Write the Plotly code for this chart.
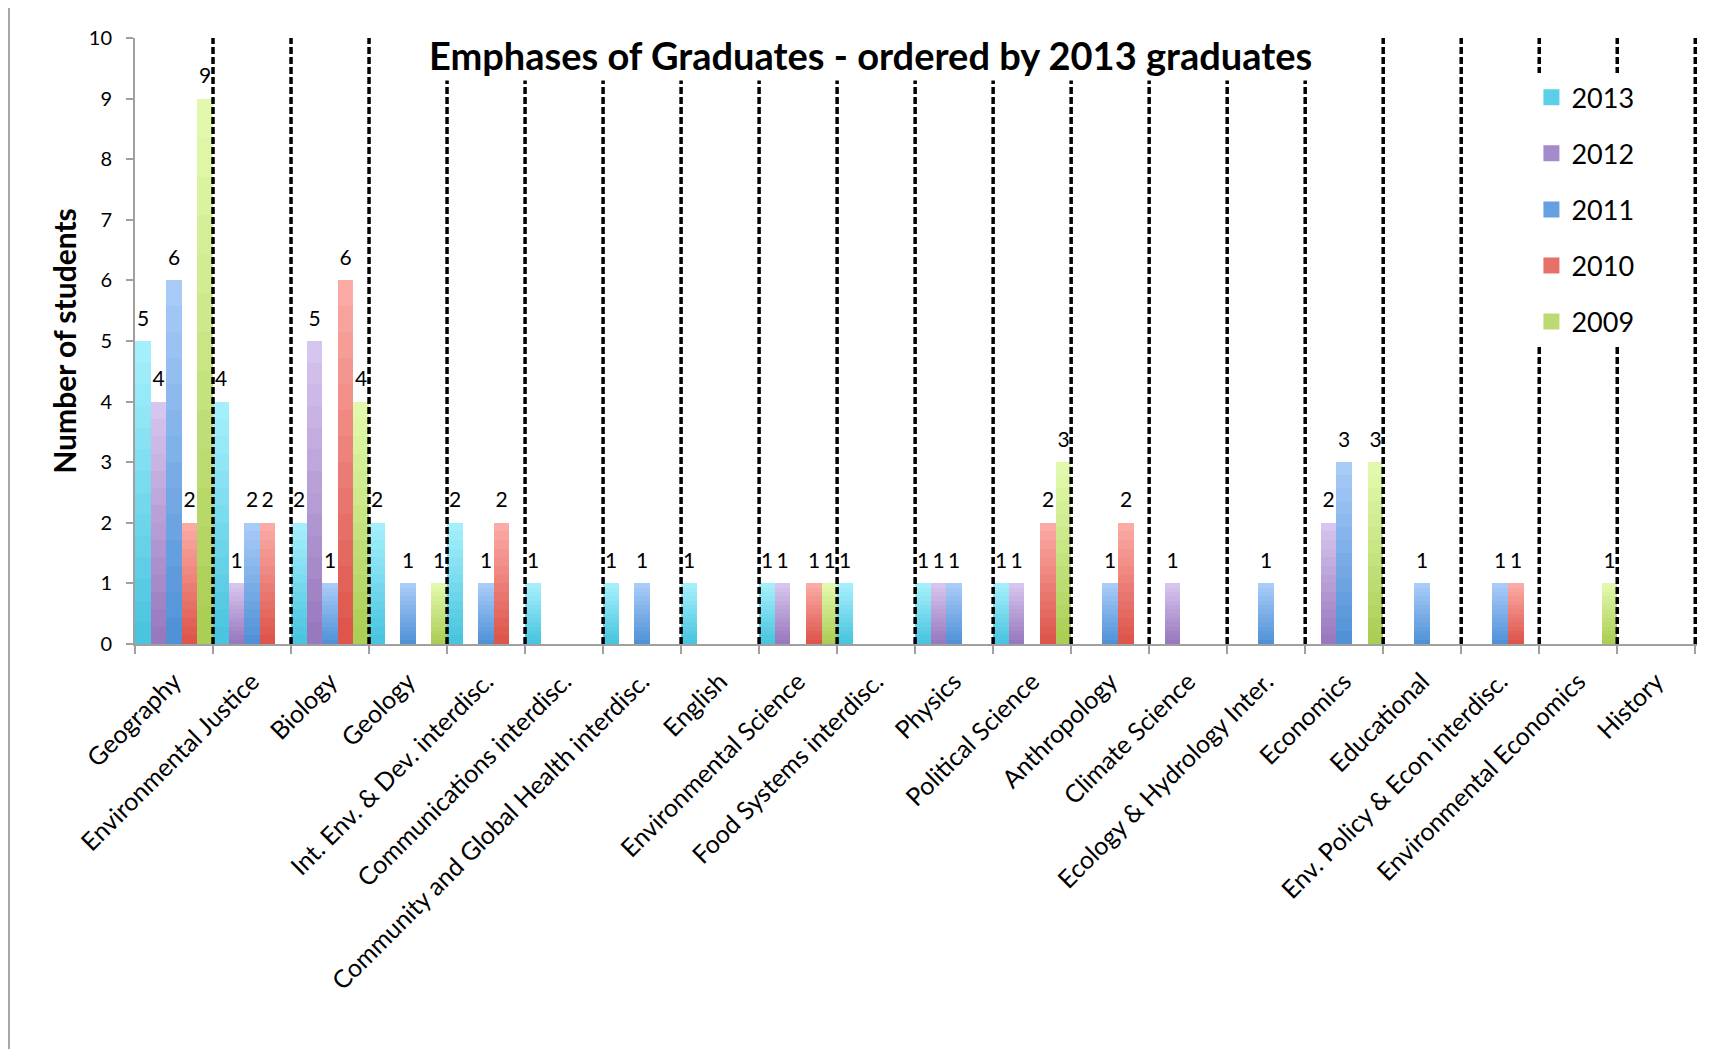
import plotly.graph_objects as go

categories = [
    "Geography", "Environmental Justice", "Biology", "Geology",
    "Int. Env. & Dev. interdisc.", "Communications interdisc.",
    "Community and Global Health interdisc.", "English",
    "Environmental Science", "Food Systems interdisc.", "Physics",
    "Political Science", "Anthropology", "Climate Science",
    "Ecology & Hydrology Inter.", "Economics", "Educational",
    "Env. Policy & Econ interdisc.", "Environmental Economics", "History",
]

y2013 = [5, 4, 2, 2, 2, 1, 1, 1, 1, 1, 1, 1, 0, 0, 0, 0, 0, 0, 0, 0]
y2012 = [4, 1, 5, 0, 0, 0, 0, 0, 1, 0, 1, 1, 0, 1, 0, 2, 0, 0, 0, 0]
y2011 = [6, 2, 1, 1, 1, 0, 1, 0, 0, 0, 1, 0, 1, 0, 1, 3, 1, 1, 0, 0]
y2010 = [2, 2, 6, 0, 2, 0, 0, 0, 1, 0, 0, 2, 2, 0, 0, 0, 0, 1, 0, 0]
y2009 = [9, 0, 4, 1, 0, 0, 0, 0, 1, 0, 0, 3, 0, 0, 0, 3, 0, 0, 1, 0]

series_names = ["2013", "2012", "2011", "2010", "2009"]
series_values = [y2013, y2012, y2011, y2010, y2009]
# (bottom colour, top colour) of each series' vertical gradient
series_grad = [("#46C3DE", "#A8F1FD"), ("#9675BC", "#D8C8F0"),
               ("#4E90D6", "#ABCDF9"), ("#DC5248", "#FCADA8"),
               ("#A9CC52", "#E4FBB0")]
series_legend_colors = ["#5ACFE8", "#A68BCB", "#66A0E2", "#E8706A", "#BDDA72"]

y_ticks = list(range(0, 11))
title_text = "Emphases of Graduates - ordered by 2013 graduates"
y_title = "Number of students"

FONT = "Lato"
NSEG = 14          # number of gradient slices per bar (visual only)
LABEL_PAD = 0.14   # invisible spacer (axis units) between bar top and its label


def hex2rgb(h):
    h = h.lstrip("#")
    return tuple(int(h[i:i + 2], 16) for i in (0, 2, 4))


def mix(c1, c2, t):
    a, b = hex2rgb(c1), hex2rgb(c2)
    return "rgb(%d,%d,%d)" % tuple(round(a[i] + (b[i] - a[i]) * t) for i in range(3))


fig = go.Figure()
for si, (name, vals, (cb, ct)) in enumerate(zip(series_names, series_values, series_grad)):
    for s in range(NSEG):
        fig.add_trace(go.Bar(
            x=categories, y=[v / NSEG for v in vals], name=name,
            offsetgroup=str(si), legendgroup=name, showlegend=False,
            marker=dict(color=mix(cb, ct, (s + 0.5) / NSEG), line=dict(width=0)),
            textposition="none", hoverinfo="skip",
        ))
    # transparent spacer on top carrying the value label
    fig.add_trace(go.Bar(
        x=categories, y=[LABEL_PAD if v else 0 for v in vals], name=name,
        offsetgroup=str(si), legendgroup=name, showlegend=False,
        marker=dict(color="rgba(0,0,0,0)", line=dict(width=0)),
        text=[str(v) if v else "" for v in vals], textposition="outside",
        cliponaxis=False, constraintext="none", hoverinfo="skip",
        textfont=dict(family=FONT, size=21, color="black"),
    ))

# legend entries (square swatches)
for name, col in zip(series_names, series_legend_colors):
    fig.add_trace(go.Scatter(x=[None], y=[None], mode="markers", name=name,
                             legendgroup=name,
                             marker=dict(symbol="square", size=16, color=col)))

shapes = []
for k in range(len(categories)):
    shapes.append(dict(type="line", xref="x", yref="y", x0=k + 0.5, x1=k + 0.5,
                       y0=0, y1=10, layer="above",
                       line=dict(color="black", width=3.5, dash="7px,3px")))
# outer chart frame
shapes.append(dict(type="rect", xref="paper", yref="paper", x0=-0.0807, x1=1.2,
                   y0=-1.0, y1=1.0528, layer="below",
                   line=dict(color="#A6A6A6", width=2)))

fig.update_layout(
    width=1730, height=1049,
    margin=dict(l=127, r=41, t=30, b=413),
    paper_bgcolor="white", plot_bgcolor="white",
    barmode="stack", bargap=0, bargroupgap=0,
    font=dict(family=FONT, color="black"),
    shapes=shapes,
    showlegend=True,
    legend=dict(x=0.894, y=0.942, xanchor="left", yanchor="top",
                bgcolor="white", font=dict(family=FONT, size=27),
                tracegroupgap=18, traceorder="grouped"),
    annotations=[dict(text="<b>" + title_text + "</b>", xref="paper", yref="paper",
                      x=0.4706, y=0.972, xanchor="center", yanchor="middle",
                      showarrow=False, bgcolor="white", borderpad=2,
                      font=dict(family=FONT, size=38, color="black"))],
    xaxis=dict(type="category", tickangle=-45, tickson="boundaries",
               ticks="outside", ticklen=8, tickcolor="#A0A0A0", tickwidth=2,
               showline=True, linecolor="#A0A0A0", linewidth=2,
               ticklabelstandoff=11,
               showgrid=False, tickfont=dict(family=FONT, size=25, color="black")),
    yaxis=dict(range=[0, 10], tickvals=y_ticks, ticks="outside", ticklen=7,
               tickcolor="#A0A0A0", tickwidth=2, showline=True,
               linecolor="#A0A0A0", linewidth=2, showgrid=False, zeroline=False,
               ticklabelstandoff=10,
               tickfont=dict(family=FONT, size=20, color="black"),
               title=dict(text="<b>" + y_title + "</b>", standoff=3,
                          font=dict(family=FONT, size=30, color="black"))),
)

fig.write_html("out.html")
